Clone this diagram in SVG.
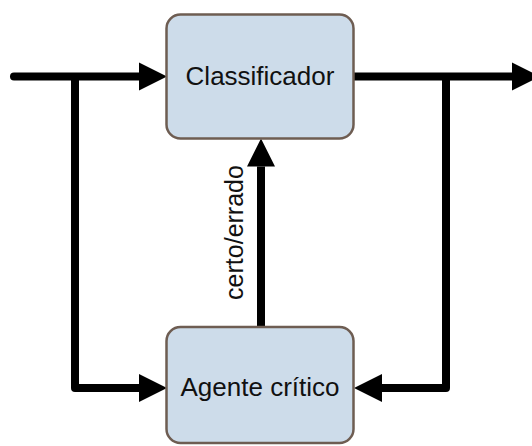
<svg xmlns="http://www.w3.org/2000/svg" width="532" height="446" viewBox="0 0 532 446">
  <style>
    .box { fill: #cddcea; stroke: #6e5d52; stroke-width: 2.5; }
    .label { font-family: "Liberation Sans", Arial, sans-serif; font-size: 26px; fill: #111; text-anchor: middle; }
    .wire { fill: none; stroke: #000; stroke-width: 8; stroke-linejoin: round; marker-end: url(#head); }
  </style>
  <defs>
    <marker id="head" markerUnits="userSpaceOnUse" markerWidth="28" markerHeight="28" refX="0" refY="14" orient="auto" overflow="visible">
      <path d="M0,0 L28,14 L0,28 Z" fill="#000"/>
    </marker>
  </defs>

  <g id="connectors">
    <path class="wire" d="M14,76.5 H139" stroke-linecap="round"/>
    <path class="wire" d="M354,76.5 H512"/>
    <path class="wire" d="M75,76.5 V388 H139"/>
    <path class="wire" d="M446,76.5 V388 H382"/>
    <path class="wire" d="M261,327 V166.5"/>
    <text class="label" font-size="25" transform="translate(243,232.5) rotate(-90)" style="font-size:25px">certo/errado</text>
  </g>

  <g id="classificador">
    <rect class="box" x="166.5" y="14.5" width="187" height="124" rx="14"/>
    <text class="label" x="260" y="85">Classificador</text>
  </g>

  <g id="agente-critico">
    <rect class="box" x="166.5" y="327" width="187" height="116" rx="14"/>
    <text class="label" x="260" y="396">Agente crítico</text>
  </g>
</svg>
